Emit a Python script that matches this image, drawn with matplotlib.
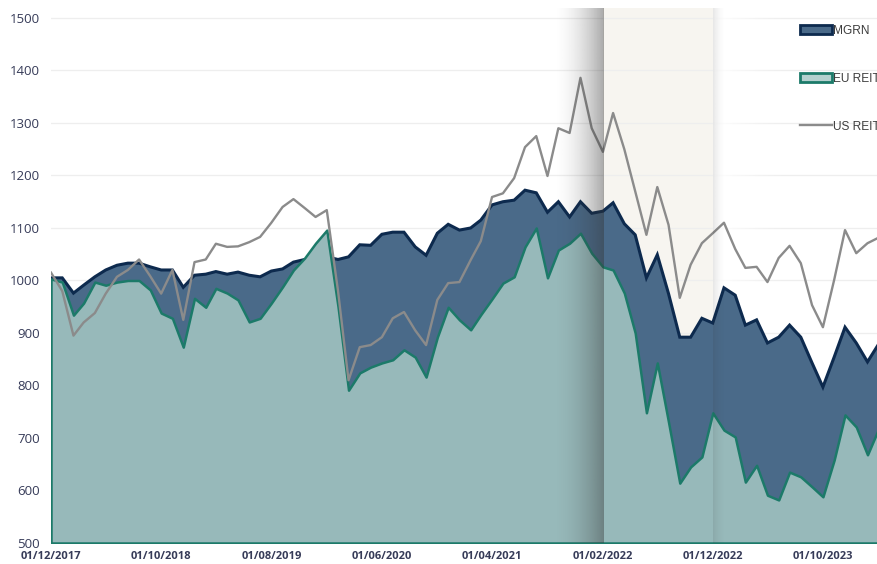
import numpy as np
import pandas as pd
import matplotlib
matplotlib.use("Agg")
import matplotlib.pyplot as plt
import matplotlib.dates as mdates
from matplotlib.patches import Patch
from matplotlib.lines import Line2D

# ---------------------------------------------------------------------------
# Data (monthly index levels)
# ---------------------------------------------------------------------------
dates = pd.date_range("2017-12-01", periods=76, freq="MS")

mgrn = [1005, 1005, 976, 991, 1007, 1020, 1029, 1033, 1033, 1026,
        1020, 1020, 987, 1010, 1012, 1017, 1012, 1016, 1010, 1007,
        1018, 1022, 1035, 1040, 1040, 1045, 1040, 1045, 1068, 1067,
        1088, 1092, 1092, 1064, 1048, 1090, 1107, 1096, 1100, 1115,
        1144, 1150, 1153, 1172, 1167, 1130, 1150, 1121, 1150, 1128,
        1132, 1148, 1108, 1087, 1005, 1049, 975, 892, 892, 928,
        919, 986, 972, 915, 925, 881, 892, 915, 892, 843,
        797, 854, 911, 881, 845, 877]

eu_reit = [1003, 997, 934, 957, 997, 991, 997, 1000, 1000, 982,
           938, 928, 873, 966, 949, 985, 976, 963, 921, 928,
           957, 988, 1020, 1043, 1071, 1096, 950, 791, 824, 835,
           843, 849, 868, 854, 816, 892, 949, 925, 906, 935,
           965, 995, 1007, 1064, 1100, 1005, 1058, 1071, 1090, 1052,
           1026, 1020, 976, 900, 748, 843, 730, 614, 645, 664,
           748, 715, 702, 616, 648, 591, 582, 635, 626, 607,
           588, 658, 744, 721, 668, 715]

us_reit = [1015, 980, 895, 920, 938, 975, 1007, 1020, 1040, 1008,
           975, 1020, 925, 1035, 1040, 1070, 1064, 1065, 1073, 1083,
           1110, 1140, 1155, 1138, 1121, 1134, 980, 810, 873, 877,
           892, 928, 940, 905, 877, 963, 995, 997, 1039, 1075,
           1159, 1166, 1195, 1254, 1275, 1199, 1290, 1281, 1386, 1290,
           1245, 1319, 1250, 1170, 1087, 1178, 1106, 967, 1030, 1071,
           1090, 1110, 1060, 1024, 1026, 997, 1043, 1066, 1033, 953,
           911, 1001, 1096, 1052, 1071, 1081]

y_ticks = list(range(500, 1501, 100))
highlight_start = pd.Timestamp("2022-02-01")
highlight_end = pd.Timestamp("2022-12-01")

# ---------------------------------------------------------------------------
# Colours
# ---------------------------------------------------------------------------
COL_MGRN_FILL = "#4a6a89"
COL_MGRN_EDGE = "#0d2a4e"
COL_EU_FILL = "#97b9ba"
COL_EU_EDGE = "#1c7a69"
COL_US = "#8b8b8b"
COL_BAND = "#f7f5f0"
COL_TEXT = "#363b58"

# ---------------------------------------------------------------------------
# Figure
# ---------------------------------------------------------------------------
W, H = 878, 564
fig = plt.figure(figsize=(W / 100, H / 100), dpi=100)
fig.patch.set_facecolor("white")
ax = fig.add_axes([51 / W, 21 / H, 1 - 51 / W, 535 / H])

base = 500
ax.fill_between(dates, base, mgrn, facecolor=COL_MGRN_FILL,
                edgecolor="none", zorder=2)
ax.plot(dates, mgrn, color=COL_MGRN_EDGE, lw=2.2, zorder=2.1,
        solid_joinstyle="miter")
ax.fill_between(dates, base, eu_reit, facecolor=COL_EU_FILL,
                edgecolor=COL_EU_EDGE, linewidth=1.8, zorder=3)
ax.plot(dates, us_reit, color=COL_US, lw=1.7, zorder=4)

# highlight band
ax.axvspan(highlight_start, highlight_end, color=COL_BAND, zorder=0.5, lw=0)

x_lo = mdates.date2num(dates[0])
x_hi = mdates.date2num(dates[-1])
bl = mdates.date2num(highlight_start)
br = mdates.date2num(highlight_end)
days_per_px = (x_hi - x_lo) / (W - 51)

# soft shadow left of the band
n = 256
t = np.linspace(0, 1, n)
shade = np.zeros((1, n, 4))
shade[..., 0:3] = 0.2
shade[0, :, 3] = 0.42 * t ** 1.8
ax.imshow(shade, extent=[bl - 50 * days_per_px, bl, base, 1519],
          aspect="auto", zorder=5, interpolation="bilinear")

# faint edge right of the band
shade_r = np.zeros((1, n, 4))
shade_r[..., 0:3] = 0.2
shade_r[0, :, 3] = 0.12 * (1 - t) ** 2
ax.imshow(shade_r, extent=[br, br + 14 * days_per_px, base, 1519],
          aspect="auto", zorder=5, interpolation="bilinear")

# white glow behind data right of the band
glow = np.ones((1, n, 4))
glow[0, :, 3] = (1 - t) ** 1.5
ax.imshow(glow, extent=[br, br + 80 * days_per_px, base, 1519],
          aspect="auto", zorder=0.6, interpolation="bilinear")

# ---------------------------------------------------------------------------
# Axes formatting
# ---------------------------------------------------------------------------
ax.set_xlim(dates[0], dates[-1])
ax.set_ylim(base, 1519)
ax.set_yticks(y_ticks)
ax.set_yticklabels([str(v) for v in y_ticks], fontsize=9.5,
                   family="Open Sans", color=COL_TEXT)
tick_dates = dates[::10]
ax.set_xticks(tick_dates)
ax.set_xticklabels([d.strftime("%d/%m/%Y") for d in tick_dates],
                   fontsize=8, family="Open Sans", fontweight="bold",
                   color=COL_TEXT)
ax.tick_params(axis="both", length=0)
ax.tick_params(axis="y", pad=8)
ax.tick_params(axis="x", pad=6)
for s in ax.spines.values():
    s.set_visible(False)
ax.yaxis.grid(True, color="#eeeeee", lw=0.9, zorder=0)
ax.set_axisbelow(True)
ax.set_facecolor("white")

# ---------------------------------------------------------------------------
# Legend (partly cut off at the right edge like the source)
# ---------------------------------------------------------------------------
handles = [
    Patch(facecolor=COL_MGRN_FILL, edgecolor=COL_MGRN_EDGE, lw=2.0,
          label="MGRN"),
    Patch(facecolor="#b4d0ce", edgecolor=COL_EU_EDGE, lw=2.0,
          label="EU REIT"),
    Line2D([0], [0], color=COL_US, lw=1.7, label="US REIT"),
]
leg = fig.legend(handles=handles, loc="upper left",
                 bbox_to_anchor=(800 / W, 1 - 25 / H),
                 frameon=False, handlelength=2.7, handleheight=0.75,
                 handletextpad=0.1, labelspacing=3.0, borderpad=0,
                 borderaxespad=0,
                 prop={"family": "Liberation Sans", "size": 8.6})
for txt in leg.get_texts():
    txt.set_color("#3d3d3d")

fig.savefig("out.png", dpi=100, facecolor="white")
